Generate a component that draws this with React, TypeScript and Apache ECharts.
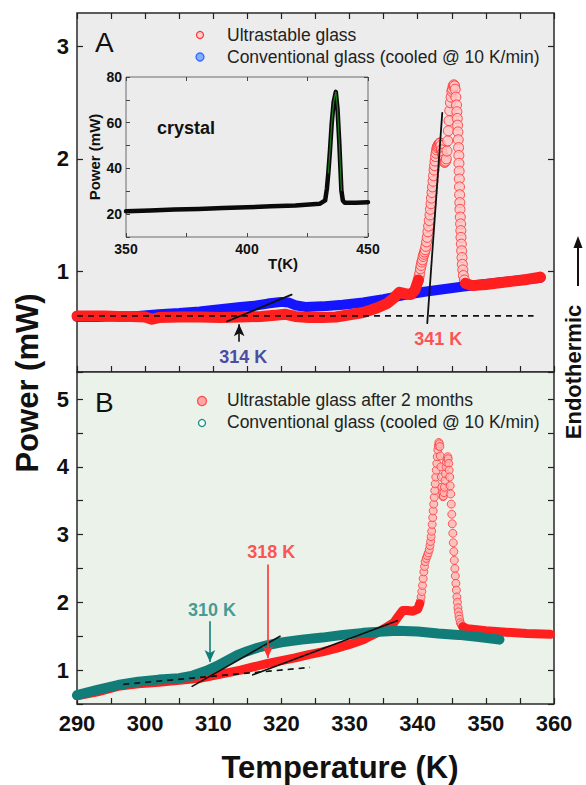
import React, { useEffect, useRef } from "react";
import * as echarts from "echarts";

const FONT = "'Liberation Sans', Arial, Helvetica, sans-serif";

// ---------- data ----------
// Panel A: ultrastable glass (T in K, power in mW)
const topUltrastable: [number, number][] = [
  [290, 0.6], [292, 0.6], [294, 0.6], [296, 0.595], [298, 0.595], [300, 0.59], [301, 0.57], [302, 0.585],
  [305, 0.59], [308, 0.59], [311, 0.585], [314, 0.59], [317, 0.595], [319, 0.605], [320.5, 0.615], [322, 0.595],
  [324, 0.585], [326, 0.585], [328, 0.59], [330, 0.61], [332, 0.63], [334, 0.67], [335.5, 0.71], [336.5, 0.76],
  [337.3, 0.81], [338, 0.8], [339, 0.79], [339.6, 0.83],
  [340.1, 0.92], [340.2, 0.95], [340.3, 0.98], [340.4, 1.02], [340.5, 1.05], [340.6, 1.08], [340.7, 1.1],
  [340.8, 1.13], [340.9, 1.15], [341.0, 1.17], [341.1, 1.19], [341.2, 1.22], [341.3, 1.26], [341.4, 1.3],
  [341.5, 1.35], [341.6, 1.4], [341.7, 1.45], [341.8, 1.5], [341.87, 1.55], [341.95, 1.6], [342.02, 1.65],
  [342.1, 1.7], [342.17, 1.75], [342.25, 1.8], [342.32, 1.85], [342.4, 1.9], [342.47, 1.94], [342.55, 1.98],
  [342.62, 2.02], [342.7, 2.05], [342.78, 2.08], [342.85, 2.1], [342.93, 2.11], [343, 2.12], [343.1, 2.13],
  [343.2, 2.14], [343.3, 2.14], [343.4, 2.12], [343.5, 2.08], [343.6, 2.05], [343.7, 2.02], [343.8, 1.99],
  [343.9, 1.97], [344, 1.97], [344.1, 1.98], [344.2, 2.0], [344.3, 2.07], [344.4, 2.16], [344.5, 2.25],
  [344.6, 2.34], [344.7, 2.43], [344.8, 2.5], [344.9, 2.55], [345, 2.6], [345.1, 2.62], [345.2, 2.65],
  [345.3, 2.66], [345.4, 2.65], [345.5, 2.62], [345.6, 2.55], [345.7, 2.48], [345.75, 2.42], [345.8, 2.36],
  [345.85, 2.3], [345.9, 2.24], [345.95, 2.17], [346, 2.1], [346.03, 2.03], [346.05, 1.96], [346.08, 1.89],
  [346.1, 1.82], [346.13, 1.75], [346.15, 1.68], [346.18, 1.61], [346.2, 1.55], [346.25, 1.48], [346.3, 1.42],
  [346.33, 1.36], [346.35, 1.3], [346.4, 1.24], [346.45, 1.18], [346.5, 1.12], [346.55, 1.06], [346.62, 1.01],
  [346.7, 0.96], [346.85, 0.92], [347, 0.89],
  [348, 0.87], [350, 0.88], [352, 0.895], [354, 0.91], [356, 0.925], [358, 0.945],
];
// Panel A: conventional glass
const topConventional: [number, number][] = [
  [290, 0.59], [293, 0.59], [296, 0.6], [299, 0.6], [302, 0.615], [305, 0.625], [308, 0.64], [311, 0.66],
  [314, 0.68], [316, 0.69], [318, 0.71], [320, 0.725], [321, 0.72], [322, 0.695], [323.5, 0.68], [326, 0.685],
  [329, 0.7], [332, 0.72], [335, 0.75], [338, 0.785], [341, 0.815], [344, 0.84], [347, 0.865], [350, 0.885],
  [353, 0.905], [356, 0.925], [358, 0.94],
];
// Panel B: ultrastable glass after 2 months
const bottomAged: [number, number][] = [
  [290, 0.62], [293, 0.68], [296, 0.76], [299, 0.8], [302, 0.82], [305, 0.85], [308, 0.88], [310, 0.92],
  [312, 0.96], [314, 1.0], [316, 1.05], [318, 1.1], [320, 1.14], [322, 1.18], [324, 1.23], [326, 1.27],
  [328, 1.32], [330, 1.38], [332, 1.45], [333, 1.5], [334, 1.55], [335.5, 1.64], [336.5, 1.7], [337.2, 1.8],
  [337.8, 1.88], [338.5, 1.88], [339.3, 1.87], [340, 1.9],
  [340.3, 1.98], [340.4, 2.02], [340.5, 2.08], [340.6, 2.16], [340.7, 2.25], [340.8, 2.35], [340.9, 2.45],
  [341, 2.53], [341.1, 2.6], [341.25, 2.65], [341.4, 2.69], [341.55, 2.73], [341.7, 2.78], [341.8, 2.84],
  [341.9, 2.9], [341.97, 2.97], [342.05, 3.05], [342.12, 3.15], [342.2, 3.25], [342.27, 3.35], [342.35, 3.45],
  [342.42, 3.55], [342.5, 3.65], [342.57, 3.75], [342.65, 3.85], [342.72, 3.95], [342.8, 4.05], [342.87, 4.15],
  [342.95, 4.25], [343.02, 4.31], [343.1, 4.36], [343.18, 4.34], [343.25, 4.3], [343.32, 4.16], [343.4, 4.0],
  [343.47, 3.85], [343.55, 3.7], [343.62, 3.62], [343.7, 3.56], [343.77, 3.57], [343.85, 3.62], [343.92, 3.7],
  [344, 3.8], [344.07, 3.9], [344.15, 4.0], [344.22, 4.07], [344.3, 4.12], [344.4, 4.15], [344.47, 4.12],
  [344.55, 4.05], [344.62, 3.95], [344.7, 3.85], [344.77, 3.72], [344.85, 3.6], [344.92, 3.45], [345, 3.3],
  [345.07, 3.16], [345.15, 3.02], [345.22, 2.88], [345.3, 2.75], [345.37, 2.62], [345.45, 2.5], [345.52, 2.39],
  [345.6, 2.28], [345.67, 2.18], [345.75, 2.08], [345.82, 2.0], [345.9, 1.92], [345.97, 1.86], [346.05, 1.8],
  [346.15, 1.75], [346.25, 1.7], [346.4, 1.67], [346.6, 1.64],
  [347.3, 1.61], [350, 1.58], [353, 1.56], [356, 1.54], [359.5, 1.53],
];
// Panel B: conventional glass
const bottomConventional: [number, number][] = [
  [290, 0.63], [293, 0.71], [296, 0.78], [299, 0.83], [302, 0.86], [305, 0.88], [307, 0.92], [309, 0.99],
  [310.5, 1.06], [312, 1.14], [313.5, 1.22], [315, 1.28], [316.5, 1.33], [318, 1.37], [320, 1.41], [323, 1.45],
  [326, 1.48], [329, 1.52], [332, 1.55], [335, 1.57], [337, 1.58], [340, 1.57], [343, 1.54], [346, 1.52],
  [349, 1.49], [352, 1.45],
];
// Inset: crystal
const insetCrystal: [number, number][] = [
  [350, 21.3], [360, 21.6], [370, 22], [380, 22.3], [390, 22.7], [400, 23], [410, 23.4], [420, 23.8],
  [430, 24.5], [432.3, 26], [433, 31], [433.6, 38], [434.3, 48], [435, 59.6], [435.8, 69], [436.7, 73.5],
  [437.4, 66], [438.1, 52], [438.6, 40], [439, 30.4], [439.6, 26], [440.4, 25], [445, 25], [450, 25.2],
];

// construction lines
const topBaseline: [number, number][] = [[290, 0.6], [357, 0.6]];
const topTangent314: [number, number][] = [[312, 0.55], [321.5, 0.79]];
const topTangent341: [number, number][] = [[341.4, 0.535], [343.6, 2.41]];
const bottomBaseline: [number, number][] = [[296.8, 0.79], [324.2, 1.04]];
const bottomTangent310: [number, number][] = [[306.9, 0.76], [319.8, 1.5]];
const bottomTangent318: [number, number][] = [[315.8, 0.93], [337, 1.73]];

// arrows [from, to]
const topArrow314: [number, number][] = [[313.8, 0.37], [313.8, 0.525]];
const bottomArrow310: [number, number][] = [[309.5, 1.72], [309.5, 1.12]];
const bottomArrow318: [number, number][] = [[318, 2.56], [318, 1.18]];

// annotations
const topNotes = [
  { text: "314 K", at: [314.4, 0.23], color: "#20208c" },
  { text: "341 K", at: [343.0, 0.39], color: "#ff2a2a" },
];
const bottomNotes = [
  { text: "310 K", at: [309.8, 1.88], color: "#178581" },
  { text: "318 K", at: [318.5, 2.75], color: "#ff2a2a" },
];

// tick labels
const xTickLabels = [290, 300, 310, 320, 330, 340, 350, 360];
const topYTickLabels = [1, 2, 3];
const bottomYTickLabels = [1, 2, 3, 4, 5];
const insetXTickLabels = [350, 400, 450];
const insetYTickLabels = [20, 40, 60, 80];

// ranges drawn as open circles (sparse points)
const topPeakWindow = [340.1, 347];
const bottomPeakWindow = [340.3, 346.6];

const RED = "#ff1f1f";
const BLUE = "#1414ff";
const TEAL = "#127d78";

function band(data: [number, number][], win: number[]) {
  return data.map((p) => (p[0] > win[0] && p[0] < win[1] ? [p[0], "-"] : p));
}
function circles(data: [number, number][], win: number[]) {
  return data.filter((p) => p[0] >= win[0] && p[0] <= win[1]);
}

const tickStyle = { color: "#222", width: 1.2 };

function xAxisMain(gridIndex: number, position: string, showLabel: boolean) {
  return {
    type: "value",
    gridIndex,
    position,
    min: 290,
    max: 360,
    interval: 5,
    axisLine: { show: false },
    splitLine: { show: false },
    axisTick: { show: true, inside: true, length: 6, lineStyle: tickStyle },
    axisLabel: {
      show: showLabel,
      formatter: (v: number) => (xTickLabels.includes(v) ? String(v) : ""),
      fontSize: 22,
      fontWeight: "bold",
      color: "#111",
      fontFamily: FONT,
      margin: 8,
    },
  };
}

function lineSeries(data: any[], xi: number, yi: number, color: string, width: number, extra: any = {}) {
  return {
    type: "line",
    xAxisIndex: xi,
    yAxisIndex: yi,
    data,
    symbol: "none",
    silent: true,
    lineStyle: { color, width, cap: "round", join: "round" },
    ...extra,
  };
}

function arrowSeries(arrow: [number, number][], xi: number, yi: number, color: string) {
  return {
    type: "line",
    xAxisIndex: xi,
    yAxisIndex: yi,
    data: [],
    symbol: "none",
    markLine: {
      silent: true,
      symbol: ["none", "arrow"],
      symbolSize: [8, 12],
      lineStyle: { color, width: 1.6, type: "solid" },
      label: { show: false },
      data: [[{ coord: arrow[0] }, { coord: arrow[1] }]],
    },
  };
}

function noteSeries(notes: { text: string; at: number[]; color: string }[], xi: number, yi: number) {
  return {
    type: "scatter",
    xAxisIndex: xi,
    yAxisIndex: yi,
    symbolSize: 1,
    silent: true,
    itemStyle: { color: "rgba(0,0,0,0)" },
    data: notes.map((n) => ({
      value: n.at,
      label: {
        show: true,
        position: "inside",
        formatter: n.text,
        color: n.color,
        fontSize: 18,
        fontWeight: "bold",
        fontFamily: FONT,
      },
    })),
  };
}

export default function App() {
  const ref = useRef<HTMLDivElement>(null);

  useEffect(() => {
    if (!ref.current) return;
    const chart = echarts.init(ref.current, null, { renderer: "svg" });

    const option: any = {
      animation: false,
      textStyle: { fontFamily: FONT },
      grid: [
        { left: 77, top: 13, width: 477, height: 359, show: true, backgroundColor: "#ececec", borderColor: "#2a2a2a", borderWidth: 1.5 },
        { left: 77, top: 372, width: 477, height: 332, show: true, backgroundColor: "#ebf2ea", borderColor: "#2a2a2a", borderWidth: 1.5 },
        { left: 126, top: 77, width: 242, height: 160, show: true, backgroundColor: "#ececec", borderColor: "#6a6a6a", borderWidth: 1 },
      ],
      xAxis: [
        xAxisMain(0, "bottom", false),
        xAxisMain(0, "top", false),
        xAxisMain(1, "bottom", true),
        {
          type: "value", gridIndex: 2, position: "bottom", min: 350, max: 450, interval: 25,
          axisLine: { show: false }, splitLine: { show: false },
          axisTick: { inside: true, length: 4, lineStyle: { color: "#444", width: 1 } },
          axisLabel: {
            formatter: (v: number) => (insetXTickLabels.includes(v) ? String(v) : ""),
            fontSize: 14, fontWeight: "bold", color: "#111", fontFamily: FONT, margin: 5,
          },
        },
        {
          type: "value", gridIndex: 2, position: "top", min: 350, max: 450, interval: 25,
          axisLine: { show: false }, splitLine: { show: false },
          axisTick: { inside: true, length: 4, lineStyle: { color: "#444", width: 1 } },
          axisLabel: { show: false },
        },
      ],
      yAxis: [
        {
          type: "value", gridIndex: 0, position: "left", min: 0.1, max: 3.3,
          axisLine: { show: false }, splitLine: { show: false },
          axisTick: { inside: true, length: 6, lineStyle: tickStyle, customValues: topYTickLabels },
          axisLabel: { customValues: topYTickLabels, fontSize: 22, fontWeight: "bold", color: "#111", fontFamily: FONT, margin: 8 },
        },
        {
          type: "value", gridIndex: 0, position: "right", min: 0.1, max: 3.3,
          axisLine: { show: false }, splitLine: { show: false },
          axisTick: { inside: true, length: 6, lineStyle: tickStyle, customValues: topYTickLabels },
          axisLabel: { show: false },
        },
        {
          type: "value", gridIndex: 1, position: "left", min: 0.5, max: 5.4, interval: 0.5,
          axisLine: { show: false }, splitLine: { show: false },
          axisTick: { inside: true, length: 6, lineStyle: tickStyle },
          axisLabel: {
            formatter: (v: number) => (bottomYTickLabels.includes(v) ? String(v) : ""),
            fontSize: 22, fontWeight: "bold", color: "#111", fontFamily: FONT, margin: 8,
          },
        },
        {
          type: "value", gridIndex: 1, position: "right", min: 0.5, max: 5.4, interval: 0.5,
          axisLine: { show: false }, splitLine: { show: false },
          axisTick: { inside: true, length: 6, lineStyle: tickStyle },
          axisLabel: { show: false },
        },
        {
          type: "value", gridIndex: 2, position: "left", min: 10, max: 80, interval: 10,
          axisLine: { show: false }, splitLine: { show: false },
          axisTick: { inside: true, length: 4, lineStyle: { color: "#444", width: 1 } },
          axisLabel: {
            formatter: (v: number) => (insetYTickLabels.includes(v) ? String(v) : ""),
            fontSize: 14, fontWeight: "bold", color: "#111", fontFamily: FONT, margin: 4,
          },
        },
        {
          type: "value", gridIndex: 2, position: "right", min: 10, max: 80, interval: 10,
          axisLine: { show: false }, splitLine: { show: false },
          axisTick: { inside: true, length: 4, lineStyle: { color: "#444", width: 1 } },
          axisLabel: { show: false },
        },
      ],
      series: [
        // ----- Panel A -----
        lineSeries(topConventional, 0, 0, BLUE, 10),
        lineSeries(band(topUltrastable, topPeakWindow), 0, 0, RED, 11),
        {
          type: "scatter", name: "Ultrastable glass", xAxisIndex: 0, yAxisIndex: 0, silent: true,
          data: circles(topUltrastable, topPeakWindow).concat([topUltrastable[topUltrastable.length - 1]]),
          symbol: "circle", symbolSize: 10,
          itemStyle: { color: "#ffc4c4", borderColor: "#ff2a2a", borderWidth: 1 },
        },
        lineSeries(topBaseline, 0, 0, "#111", 1.6, { lineStyle: { color: "#111", width: 1.6, type: [6, 5] } }),
        lineSeries(topTangent314, 0, 0, "#111", 1.8),
        lineSeries(topTangent341, 0, 0, "#111", 1.8),
        arrowSeries(topArrow314, 0, 0, "#111"),
        noteSeries(topNotes, 0, 0),
        // ----- Panel B -----
        lineSeries(band(bottomAged, bottomPeakWindow), 2, 2, RED, 9),
        lineSeries(bottomConventional, 2, 2, TEAL, 10),
        {
          type: "scatter", name: "Ultrastable glass after 2 months", xAxisIndex: 2, yAxisIndex: 2, silent: true,
          data: circles(bottomAged, bottomPeakWindow),
          symbol: "circle", symbolSize: 8,
          itemStyle: { color: "#ffb4b4", borderColor: "#ff3a3a", borderWidth: 1 },
        },
        {
          type: "scatter", xAxisIndex: 2, yAxisIndex: 2, silent: true,
          data: [bottomConventional[bottomConventional.length - 1]],
          symbol: "circle", symbolSize: 7,
          itemStyle: { color: "#ffffff", borderColor: TEAL, borderWidth: 1.2 },
        },
        lineSeries(bottomBaseline, 2, 2, "#111", 1.6, { lineStyle: { color: "#111", width: 1.6, type: [6, 5] } }),
        lineSeries(bottomTangent310, 2, 2, "#111", 1.6),
        lineSeries(bottomTangent318, 2, 2, "#111", 1.6),
        arrowSeries(bottomArrow310, 2, 2, TEAL),
        arrowSeries(bottomArrow318, 2, 2, "#ff3030"),
        noteSeries(bottomNotes, 2, 2),
        // ----- Inset -----
        lineSeries(insetCrystal, 3, 4, "#0a0a0a", 4.5),
        lineSeries(insetCrystal.filter((p) => p[0] >= 433.6 && p[0] <= 439), 3, 4, "#1f7a1f", 1.2),
      ],
      graphic: [
        // panel letters
        { type: "text", left: 95, top: 28, style: { text: "A", font: `28px ${FONT}`, fill: "#111" }, z: 100 },
        { type: "text", left: 95, top: 388, style: { text: "B", font: `28px ${FONT}`, fill: "#111" }, z: 100 },
        // legend A
        { type: "circle", shape: { cx: 200, cy: 35, r: 3.5 }, style: { fill: "#ffd0d0", stroke: "#ff3030", lineWidth: 1.2 }, z: 100 },
        { type: "text", x: 227, y: 35, style: { text: "Ultrastable glass", font: `17.5px ${FONT}`, fill: "#222", textVerticalAlign: "middle" }, z: 100 },
        { type: "circle", shape: { cx: 200, cy: 57, r: 4 }, style: { fill: "#7fb0ff", stroke: "#2a5cff", lineWidth: 1.2 }, z: 100 },
        { type: "text", x: 227, y: 57, style: { text: "Conventional glass (cooled @ 10 K/min)", font: `17.5px ${FONT}`, fill: "#222", textVerticalAlign: "middle" }, z: 100 },
        // legend B
        { type: "circle", shape: { cx: 202, cy: 401, r: 4.5 }, style: { fill: "#ffa8a8", stroke: "#ff4848", lineWidth: 1.2 }, z: 100 },
        { type: "text", x: 227, y: 400, style: { text: "Ultrastable glass after 2 months", font: `17.5px ${FONT}`, fill: "#222", textVerticalAlign: "middle" }, z: 100 },
        { type: "circle", shape: { cx: 202, cy: 423, r: 3.5 }, style: { fill: "#f2faf6", stroke: "#1a8a86", lineWidth: 1.3 }, z: 100 },
        { type: "text", x: 227, y: 422, style: { text: "Conventional glass (cooled @ 10 K/min)", font: `17.5px ${FONT}`, fill: "#222", textVerticalAlign: "middle" }, z: 100 },
        // axis titles
        { type: "text", x: 340, y: 767, style: { text: "Temperature (K)", font: `bold 31px ${FONT}`, fill: "#111", textAlign: "center", textVerticalAlign: "middle" }, z: 100 },
        { type: "text", x: 27, y: 383, rotation: Math.PI / 2, style: { text: "Power (mW)", font: `bold 31px ${FONT}`, fill: "#111", textAlign: "center", textVerticalAlign: "middle" }, z: 100 },
        // endothermic
        { type: "text", x: 573, y: 372, rotation: Math.PI / 2, style: { text: "Endothermic", font: `bold 22px ${FONT}`, fill: "#111", textAlign: "center", textVerticalAlign: "middle" }, z: 100 },
        { type: "line", shape: { x1: 578, y1: 286, x2: 578, y2: 246 }, style: { stroke: "#111", lineWidth: 2 }, z: 100 },
        { type: "polygon", shape: { points: [[578, 236], [573.5, 248], [582.5, 248]] }, style: { fill: "#111" }, z: 100 },
        // inset texts
        { type: "text", x: 157, y: 128, style: { text: "crystal", font: `bold 18px ${FONT}`, fill: "#111", textVerticalAlign: "middle" }, z: 100 },
        { type: "text", x: 283, y: 263, style: { text: "T(K)", font: `bold 15px ${FONT}`, fill: "#111", textAlign: "center", textVerticalAlign: "middle" }, z: 100 },
        { type: "text", x: 94, y: 157, rotation: Math.PI / 2, style: { text: "Power (mW)", font: `bold 15px ${FONT}`, fill: "#111", textAlign: "center", textVerticalAlign: "middle" }, z: 100 },
      ],
    };

    chart.setOption(option);
    return () => chart.dispose();
  }, []);

  return <div ref={ref} style={{ position: "absolute", left: 0, top: 0, width: 586, height: 785, background: "#fff" }} />;
}
